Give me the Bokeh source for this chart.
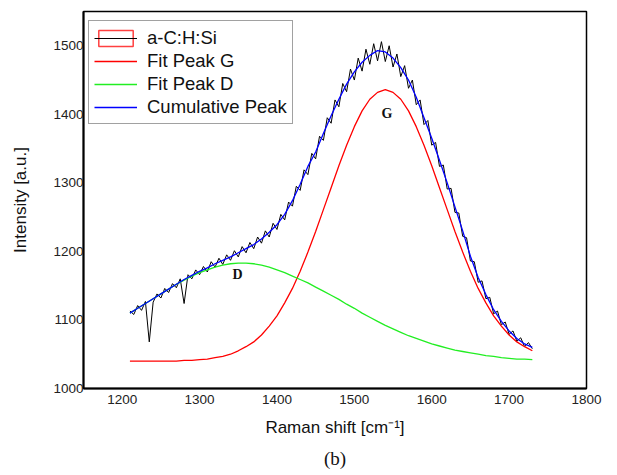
from bokeh.plotting import figure
from bokeh.models import Range1d, FixedTicker, Legend, LegendItem, Label, Title
from bokeh.embed import file_html
from bokeh.resources import INLINE

# ---- data ----
x_fit = [1210, 1220, 1230, 1240, 1250, 1260, 1270, 1280, 1290, 1300,
         1310, 1320, 1330, 1340, 1350, 1360, 1370, 1380, 1390, 1400,
         1410, 1420, 1430, 1440, 1450, 1460, 1470, 1480, 1490, 1500,
         1510, 1520, 1530, 1540, 1550, 1560, 1570, 1580, 1590, 1600,
         1610, 1620, 1630, 1640, 1650, 1660, 1670, 1680, 1690, 1700,
         1710, 1720, 1730]

fit_peak_g = [1040, 1040, 1040, 1040, 1040, 1040, 1040, 1041, 1041, 1042,
              1043, 1045, 1047, 1050, 1055, 1061, 1068, 1078, 1091, 1106,
              1125, 1146, 1171, 1199, 1229, 1261, 1293, 1325, 1355, 1382,
              1405, 1422, 1432, 1436, 1432, 1422, 1405, 1382, 1355, 1325,
              1293, 1261, 1229, 1199, 1171, 1146, 1125, 1106, 1091, 1078,
              1068, 1061, 1055]

fit_peak_d = [1110, 1117, 1124, 1131, 1138, 1145, 1152, 1158, 1164, 1169,
              1173, 1177, 1180, 1182, 1183, 1183, 1182, 1180, 1177, 1173,
              1169, 1164, 1159, 1154, 1148, 1142, 1136, 1130, 1123, 1117,
              1110, 1104, 1098, 1092, 1087, 1082, 1077, 1073, 1069, 1065,
              1062, 1059, 1056, 1054, 1052, 1050, 1048, 1047, 1045, 1044,
              1043, 1043, 1042]

cumulative_peak = [1110, 1117, 1124, 1131, 1138, 1145, 1152, 1159, 1165, 1171,
                   1176, 1182, 1187, 1192, 1198, 1204, 1210, 1218, 1228, 1239,
                   1254, 1274, 1298, 1324, 1345, 1372, 1398, 1422, 1444, 1462,
                   1476, 1486, 1493, 1491, 1482, 1468, 1450, 1425, 1395, 1365,
                   1333, 1300, 1265, 1230, 1193, 1162, 1137, 1115, 1098, 1084,
                   1073, 1065, 1060]

x_raw = [1210, 1215, 1220, 1225, 1230, 1235, 1240, 1245, 1250, 1255,
         1260, 1265, 1270, 1275, 1280, 1285, 1290, 1295, 1300, 1305,
         1310, 1315, 1320, 1325, 1330, 1335, 1340, 1345, 1350, 1355,
         1360, 1365, 1370, 1375, 1380, 1385, 1390, 1395, 1400, 1405,
         1410, 1415, 1420, 1425, 1430, 1435, 1440, 1445, 1450, 1455,
         1460, 1465, 1470, 1475, 1480, 1485, 1490, 1495, 1500, 1505,
         1510, 1515, 1520, 1525, 1530, 1535, 1540, 1545, 1550, 1555,
         1560, 1565, 1570, 1575, 1580, 1585, 1590, 1595, 1600, 1605,
         1610, 1615, 1620, 1625, 1630, 1635, 1640, 1645, 1650, 1655,
         1660, 1665, 1670, 1675, 1680, 1685, 1690, 1695, 1700, 1705,
         1710, 1715, 1720, 1725, 1730]

a_c_h_si = [1113, 1108, 1121, 1114, 1127, 1068, 1126, 1138, 1132, 1146,
            1140, 1153, 1147, 1160, 1124, 1166, 1160, 1173, 1166, 1178,
            1170, 1185, 1177, 1190, 1181, 1195, 1187, 1201, 1192, 1207,
            1198, 1213, 1204, 1221, 1212, 1230, 1221, 1241, 1232, 1254,
            1246, 1272, 1266, 1295, 1289, 1319, 1312, 1343, 1335, 1368,
            1362, 1395, 1387, 1421, 1411, 1445, 1433, 1466, 1450, 1482,
            1463, 1495, 1473, 1503, 1478, 1506, 1477, 1500, 1469, 1488,
            1455, 1471, 1438, 1450, 1414, 1421, 1385, 1391, 1355, 1359,
            1324, 1326, 1291, 1292, 1257, 1256, 1222, 1220, 1186, 1185,
            1155, 1157, 1131, 1133, 1109, 1113, 1093, 1097, 1079, 1084,
            1069, 1074, 1061, 1067, 1058]

legend_labels = ["a-C:H:Si", "Fit Peak G", "Fit Peak D", "Cumulative Peak"]
x_ticks = [1200, 1300, 1400, 1500, 1600, 1700, 1800]
y_ticks = [1000, 1100, 1200, 1300, 1400, 1500]

NAN = float("nan")

# ---- figure ----
p = figure(width=617, height=475,
           x_range=Range1d(1150, 1800), y_range=Range1d(1000, 1550),
           output_backend="svg", toolbar_location=None,
           min_border_left=83, min_border_right=31,
           min_border_top=11, min_border_bottom=87)

p.xgrid.visible = False
p.ygrid.visible = False
p.outline_line_color = "black"
p.outline_line_width = 1.5
p.outline_line_alpha = 1.0
p.background_fill_color = "white"
p.border_fill_color = "white"

for ax in (p.xaxis[0], p.yaxis[0]):
    ax.major_tick_line_color = None
    ax.minor_tick_line_color = None
    ax.major_tick_out = 0
    ax.major_tick_in = 0
    ax.minor_tick_out = 0
    ax.minor_tick_in = 0
    ax.axis_line_color = "black"
    ax.axis_line_width = 2
    ax.major_label_text_font = "Liberation Sans"
    ax.major_label_text_font_size = "13.5px"
    ax.major_label_text_color = "#222222"
    ax.axis_label_text_font = "Liberation Sans"
    ax.axis_label_text_font_size = "17px"
    ax.axis_label_text_font_style = "normal"
    ax.axis_label_text_color = "#111111"

p.xaxis.ticker = FixedTicker(ticks=x_ticks)
p.yaxis.ticker = FixedTicker(ticks=y_ticks)
p.xaxis.major_label_standoff = 6
p.yaxis.major_label_standoff = 0
p.xaxis.axis_label = "Raman shift [cm\u207b\u00b9]"
p.yaxis.axis_label = "Intensity [a.u.]"
p.xaxis.axis_label_standoff = 11
p.yaxis.axis_label_standoff = 20

# ---- lines ----
raw_r = p.line(x_raw, a_c_h_si, line_color="black", line_width=1)
g_r = p.line(x_fit, fit_peak_g, line_color="red", line_width=1.3, line_alpha=1.0)
d_r = p.line(x_fit, fit_peak_d, line_color="#22ee22", line_width=1.3, line_alpha=1.0)
c_r = p.line(x_fit, cumulative_peak, line_color="blue", line_width=1.3, line_alpha=1.0)
box_r = p.quad(left=[NAN], right=[NAN], top=[NAN], bottom=[NAN],
               fill_alpha=0, line_color="#ff4040", line_width=1.5)

item_renderers = [[box_r, raw_r], [g_r], [d_r], [c_r]]

legend = Legend(items=[LegendItem(label=lab, renderers=r)
                       for lab, r in zip(legend_labels, item_renderers)],
                location=(5, 264))
legend.label_text_font = "Liberation Sans"
legend.label_text_font_size = "18.5px"
legend.label_text_color = "#111111"
legend.glyph_width = 43
legend.glyph_height = 20
legend.label_height = 23
legend.spacing = 0
legend.padding = 5
legend.margin = 0
legend.label_standoff = 10
legend.border_line_color = "#444444"
legend.border_line_width = 1
legend.background_fill_alpha = 1
p.add_layout(legend, "center")

p.add_layout(Label(x=1349, y=1167, text="D", text_font="Liberation Serif",
                   text_font_style="bold", text_font_size="14px",
                   text_align="center", text_baseline="middle",
                   text_color="#111111"))
p.add_layout(Label(x=1542, y=1401, text="G", text_font="Liberation Serif",
                   text_font_style="bold", text_font_size="14px",
                   text_align="center", text_baseline="middle",
                   text_color="#111111"))

p.add_layout(Title(text="(b)", align="center", text_font="Liberation Serif",
                   text_font_size="19px", text_font_style="normal",
                   text_color="#111111", standoff=13), "below")

open("out.html", "w").write(file_html(p, INLINE))
